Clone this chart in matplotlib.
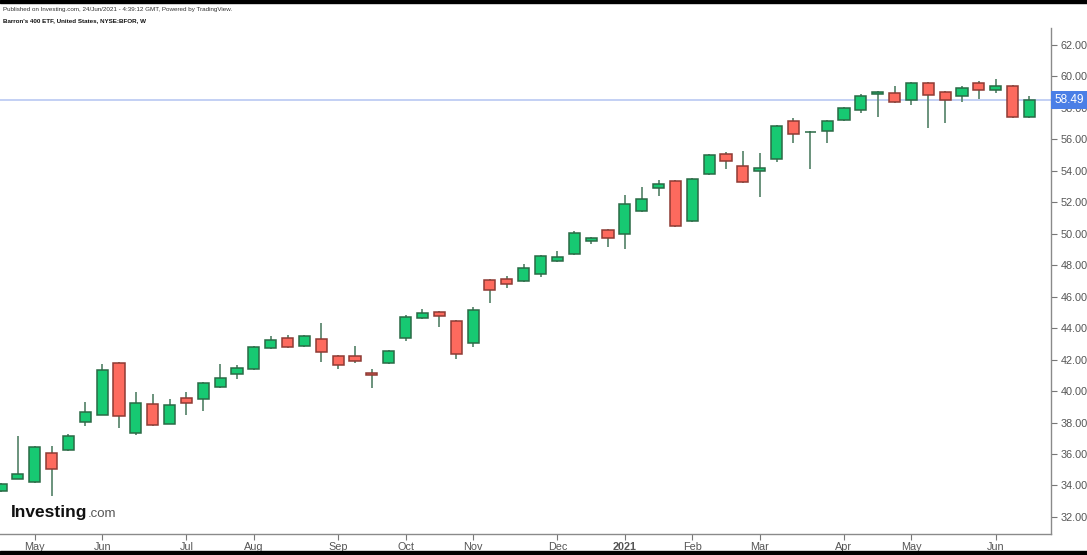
import numpy as np
import pandas as pd
import matplotlib
matplotlib.use("Agg")
import matplotlib.pyplot as plt
from matplotlib.patches import Rectangle

plt.rcParams['font.family'] = ['Liberation Sans', 'DejaVu Sans']

# weekly bars, Barron's 400 ETF (BFOR)
dates = pd.date_range("2020-04-20", periods=62, freq="W-MON")
opens = [33.65, 34.41, 34.22, 36.06, 36.25, 38.03, 38.48, 41.78, 37.33, 39.18,
         37.91, 39.56, 39.50, 40.26, 41.08, 41.40, 42.74, 43.37, 42.86, 43.31,
         42.23, 42.23, 41.15, 41.78, 43.37, 44.64, 45.03, 44.45, 43.06, 47.06,
         47.12, 47.00, 47.44, 48.27, 48.71, 49.54, 50.24, 49.98, 51.45, 52.91,
         53.35, 50.81, 53.80, 55.07, 54.31, 53.99, 54.75, 57.17, 56.44, 56.53,
         57.23, 57.87, 58.88, 58.95, 58.50, 59.58, 59.01, 58.76, 59.58, 59.14,
         59.39, 57.42]
highs = [34.15, 37.14, 36.50, 36.50, 37.27, 39.30, 41.72, 41.85, 39.94, 39.81,
         39.50, 39.94, 40.58, 41.72, 41.66, 42.85, 43.50, 43.56, 43.55, 44.33,
         42.29, 42.86, 41.40, 42.60, 44.84, 45.22, 45.10, 44.50, 45.34, 47.10,
         47.31, 48.08, 48.62, 48.90, 50.18, 49.80, 50.28, 52.46, 52.97, 53.42,
         53.42, 53.52, 55.05, 55.20, 55.26, 55.13, 56.90, 57.36, 56.52, 57.21,
         58.04, 58.88, 59.05, 59.39, 59.62, 59.62, 59.05, 59.39, 59.71, 59.84,
         59.43, 58.76]
lows = [33.60, 34.38, 34.18, 33.33, 36.20, 37.78, 38.45, 37.65, 37.20, 37.80,
        37.88, 38.48, 38.73, 40.20, 40.77, 41.36, 42.70, 42.74, 42.82, 41.85,
        41.40, 41.78, 40.19, 41.72, 43.18, 44.60, 44.07, 42.04, 42.80, 45.60,
        46.55, 46.96, 47.25, 48.23, 48.67, 49.35, 49.16, 49.03, 51.40, 52.40,
        50.45, 50.77, 53.76, 54.12, 53.20, 52.34, 54.56, 55.77, 54.12, 55.77,
        57.19, 57.68, 57.42, 58.34, 58.19, 56.72, 57.04, 58.38, 58.57, 58.95,
        57.38, 57.38]
closes = [34.09, 34.73, 36.44, 35.05, 37.14, 38.67, 41.34, 38.41, 39.24, 37.84,
          39.11, 39.24, 40.51, 40.83, 41.47, 42.80, 43.25, 42.80, 43.50, 42.48,
          41.66, 41.91, 41.02, 42.55, 44.71, 44.96, 44.77, 42.36, 45.15, 46.42,
          46.81, 47.82, 48.59, 48.52, 50.05, 49.73, 49.73, 51.89, 52.21, 53.16,
          50.49, 53.48, 55.01, 54.63, 53.29, 54.18, 56.85, 56.34, 56.50, 57.17,
          58.00, 58.76, 59.01, 58.38, 59.58, 58.82, 58.50, 59.27, 59.14, 59.39,
          57.42, 58.49]
last_price = 58.49
price_ticks = [32, 34, 36, 38, 40, 42, 44, 46, 48, 50, 52, 54, 56, 58, 60, 62]

W, H = 1087, 555
fig = plt.figure(figsize=(W / 100, H / 100), dpi=100)
ax = fig.add_axes([0, (H - 534) / H, 1051 / W, (534 - 28) / H])

up_face, up_edge = "#17c972", "#2a6a45"
dn_face, dn_edge = "#fd6a5e", "#8e3a34"
x = np.arange(len(dates))
o = np.array(opens); c = np.array(closes)
up = c >= o
ax.vlines(x, lows, highs, color="#5f8a72", lw=1.3, zorder=1)
ax.bar(x[up], (c - o)[up], bottom=o[up], width=0.66, color=up_face,
       edgecolor=up_edge, lw=1.1, zorder=2)
ax.bar(x[~up], (o - c)[~up], bottom=c[~up], width=0.66, color=dn_face,
       edgecolor=dn_edge, lw=1.1, zorder=2)

ax.axhline(last_price, color="#b9c8f2", lw=1.2, zorder=0)

ax.set_xlim(-0.06, 62.28)
ax.set_ylim(62 - (534 - 45) / 15.73, 62 + (45 - 28) / 15.73)

# month ticks at the first bar of each month
months = pd.Series(dates.to_period("M"))
first = months.ne(months.shift()).to_numpy()
first[0] = False
tick_pos = x[first]
tick_lab = [d.strftime("%Y") if d.month == 1 else d.strftime("%b") for d in dates[first]]
ax.set_xticks(tick_pos)
ax.set_xticklabels(tick_lab)
for t, d in zip(ax.get_xticklabels(), dates[first]):
    if d.month == 1:
        t.set_fontweight("bold")
        t.set_color("#222222")

ax.yaxis.tick_right()
ax.set_yticks(price_ticks)
ax.set_yticklabels([f"{p:.2f}" for p in price_ticks])
ax.tick_params(axis="both", colors="#777777", labelcolor="#555555",
               labelsize=7.8, length=4, width=0.8)
ax.tick_params(axis="x", pad=1.5)
ax.tick_params(axis="y", pad=3)
for s in ["top", "left"]:
    ax.spines[s].set_visible(False)
for s in ["right", "bottom"]:
    ax.spines[s].set_color("#8a8a8a")
    ax.spines[s].set_linewidth(1.0)

# last price label
ax.text(1.003, last_price, f"{last_price:.2f}", transform=ax.get_yaxis_transform(),
        ha="left", va="center", color="white", fontsize=8.5, zorder=5,
        bbox=dict(boxstyle="square,pad=0.25", fc="#4a7fe6", ec="none"))

# header and frame bars
fig.patches.append(Rectangle((0, 1 - 3 / H), 1, 3 / H, transform=fig.transFigure,
                             color="black"))
fig.patches.append(Rectangle((0, 0), 1, 4 / H, transform=fig.transFigure,
                             color="black"))
fig.text(3 / W, 1 - 10 / H, "Published on Investing.com, 24/Jun/2021 - 4:39:12 GMT, Powered by TradingView.",
         fontsize=4.5, color="#333333", va="center")
fig.text(3 / W, 1 - 21 / H, "Barron's 400 ETF, United States, NYSE:BFOR, W",
         fontsize=4.5, color="#111111", fontweight="bold", va="center")

# logo
logo = fig.text(11 / W, 1 - 513 / H, "Investing", fontsize=12.5, fontweight="bold",
                color="#111111", va="center")
fig.canvas.draw()
bb = logo.get_window_extent()
fig.text(bb.x1 / W + 0.5 / W, 1 - 514 / H, ".com", fontsize=9.5, color="#555555",
         va="center")

fig.savefig("out.png", dpi=100, facecolor="white")
